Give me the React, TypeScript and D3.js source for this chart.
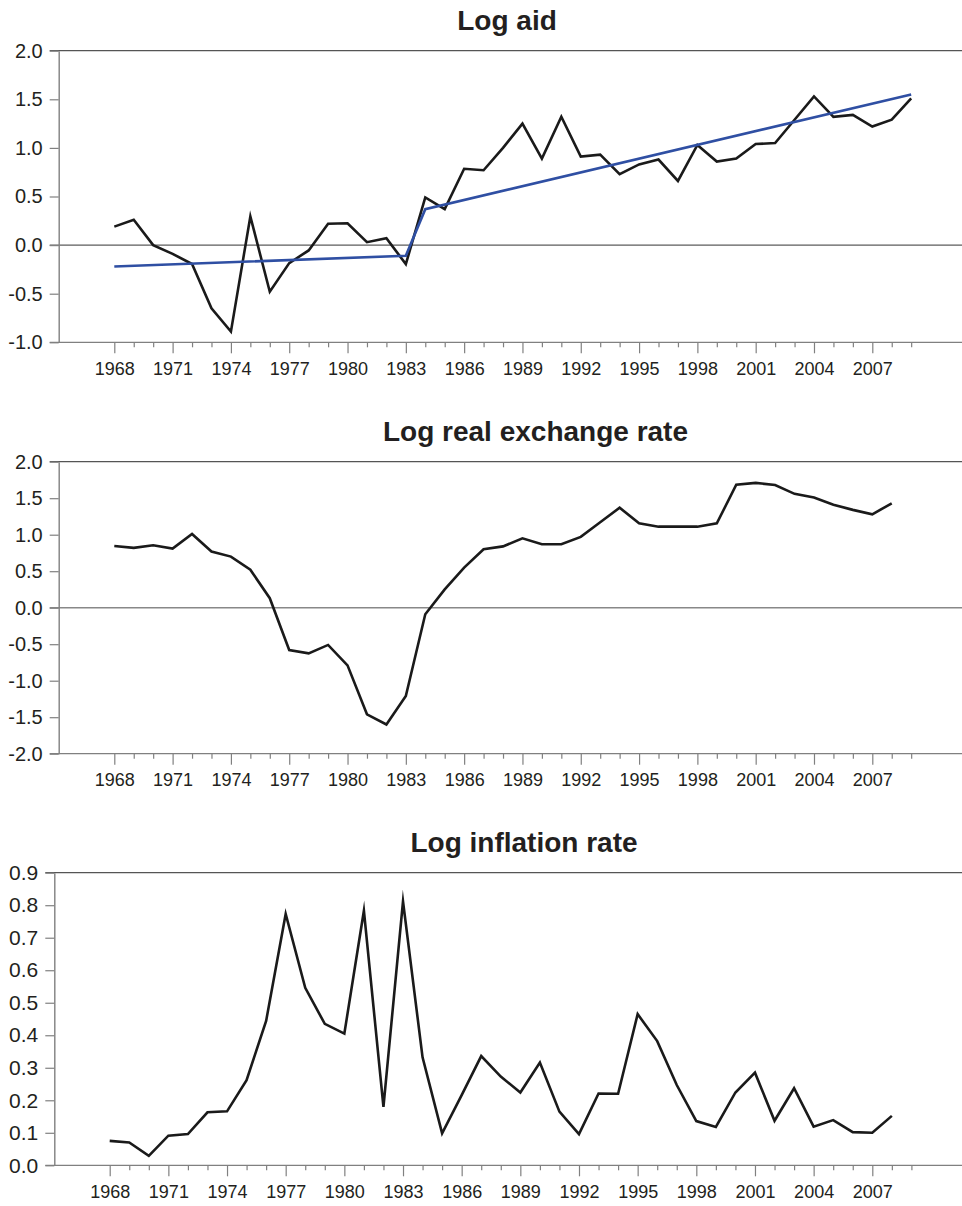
import React, { useEffect, useRef } from 'react';
import * as d3 from 'd3';

// years on the category axis
const years = [
  1968, 1969, 1970, 1971, 1972, 1973, 1974, 1975, 1976, 1977, 1978, 1979, 1980, 1981,
  1982, 1983, 1984, 1985, 1986, 1987, 1988, 1989, 1990, 1991, 1992, 1993, 1994, 1995,
  1996, 1997, 1998, 1999, 2000, 2001, 2002, 2003, 2004, 2005, 2006, 2007, 2008, 2009,
];
const labelYears = [1968, 1971, 1974, 1977, 1980, 1983, 1986, 1989, 1992, 1995, 1998, 2001, 2004, 2007];

// Log aid, 1968-2009
const logAid = [
  0.19, 0.26, 0.0, -0.09, -0.195, -0.65, -0.89, 0.295, -0.48, -0.185, -0.055, 0.22, 0.225, 0.03,
  0.07, -0.195, 0.49, 0.37, 0.785, 0.77, 1.0, 1.25, 0.89, 1.32, 0.91, 0.93, 0.73, 0.83,
  0.88, 0.66, 1.03, 0.86, 0.89, 1.04, 1.05, 1.29, 1.53, 1.32, 1.34, 1.22, 1.29, 1.51,
];
// broken trend of log aid (vertices)
const aidTrendYears = [1968, 1983, 1984, 2009];
const aidTrend = [-0.22, -0.11, 0.37, 1.55];

// Log real exchange rate, 1968-2008
const logRer = [
  0.845, 0.82, 0.855, 0.81, 1.01, 0.77, 0.7, 0.52, 0.13, -0.58, -0.625, -0.51, -0.79, -1.46,
  -1.6, -1.21, -0.09, 0.25, 0.55, 0.8, 0.84, 0.95, 0.87, 0.87, 0.97, 1.17, 1.37, 1.155,
  1.11, 1.11, 1.11, 1.155, 1.685, 1.71, 1.68, 1.56, 1.51, 1.41, 1.34, 1.28, 1.43,
];

// Log inflation rate, 1968-2008
const logInflation = [
  0.075, 0.07, 0.029, 0.091, 0.096, 0.163, 0.166, 0.262, 0.444, 0.773, 0.546, 0.435, 0.405, 0.783,
  0.18, 0.812, 0.332, 0.098, 0.216, 0.336, 0.273, 0.224, 0.316, 0.165, 0.096, 0.221, 0.22, 0.465,
  0.382, 0.247, 0.136, 0.118, 0.224, 0.285, 0.137, 0.237, 0.119, 0.139, 0.102, 0.1, 0.152,
];

const aidTicks = [-1.0, -0.5, 0.0, 0.5, 1.0, 1.5, 2.0];
const rerTicks = [-2.0, -1.5, -1.0, -0.5, 0.0, 0.5, 1.0, 1.5, 2.0];
const inflTicks = [0.0, 0.1, 0.2, 0.3, 0.4, 0.5, 0.6, 0.7, 0.8, 0.9];

const FONT = "'Liberation Sans', Arial, sans-serif";
const W = 962;
const H = 1206;

const App = () => {
  const svgRef = useRef(null);

  useEffect(() => {
    const svg = d3.select(svgRef.current);
    svg.selectAll('*').remove();

    const panels = [
      {
        title: 'Log aid', titleX: 507, titleY: 30,
        left: 58.7, top: 50.7, bottom: 342.3, x0: 114.3, x1: 872.3,
        domain: [-1, 2], ticks: aidTicks, zeroColor: '#333', zeroWidth: 1, labelSize: 20,
        series: [
          { xs: years, ys: logAid, color: '#1a1a1a' },
          { xs: aidTrendYears, ys: aidTrend, color: '#2f4fa3' },
        ],
      },
      {
        title: 'Log real exchange rate', titleX: 535.5, titleY: 440.7,
        left: 58.7, top: 461.7, bottom: 753.7, x0: 114.3, x1: 872.3,
        domain: [-2, 2], ticks: rerTicks, zeroColor: '#888', zeroWidth: 1.5, labelSize: 20,
        series: [{ xs: years.slice(0, logRer.length), ys: logRer, color: '#1a1a1a' }],
      },
      {
        title: 'Log inflation rate', titleX: 524, titleY: 851.7,
        left: 54.3, top: 872.7, bottom: 1165.3, x0: 109.7, x1: 872.3,
        domain: [0, 0.9], ticks: inflTicks, zeroColor: null, zeroWidth: 0, labelSize: 21,
        series: [{ xs: years.slice(0, logInflation.length), ys: logInflation, color: '#1a1a1a' }],
      },
    ];

    panels.forEach((p) => {
      const x = d3.scaleLinear().domain([1968, 2007]).range([p.x0, p.x1]);
      const y = d3.scaleLinear().domain(p.domain).range([p.bottom, p.top]);
      const g = svg.append('g');

      // title
      g.append('text')
        .attr('x', p.titleX)
        .attr('y', p.titleY)
        .attr('text-anchor', 'middle')
        .attr('font-family', FONT)
        .attr('font-weight', 'bold')
        .attr('font-size', 28)
        .attr('fill', '#231f20')
        .text(p.title);

      // top frame line at the max value
      g.append('line')
        .attr('x1', p.left - 9).attr('x2', W)
        .attr('y1', p.top).attr('y2', p.top)
        .attr('stroke', '#555').attr('stroke-width', 1.2);

      // zero line
      if (p.zeroColor) {
        g.append('line')
          .attr('x1', p.left - 9).attr('x2', W)
          .attr('y1', y(0)).attr('y2', y(0))
          .attr('stroke', p.zeroColor).attr('stroke-width', p.zeroWidth);
      }

      // y axis
      const yAxis = d3.axisLeft(y)
        .tickValues(p.ticks)
        .tickSize(9)
        .tickSizeOuter(0)
        .tickPadding(7)
        .tickFormat((d: any) => d.toFixed(1));
      const ya = g.append('g').attr('transform', `translate(${p.left},0)`).call(yAxis);
      ya.select('.domain').attr('stroke', '#808080').attr('stroke-width', 1.4);
      ya.selectAll('.tick line').attr('stroke', '#808080').attr('stroke-width', 1.2);
      ya.selectAll('.tick text')
        .attr('font-family', FONT)
        .attr('font-size', p.labelSize)
        .attr('fill', '#231f20');

      // x axis (bottom)
      const xAxis = d3.axisBottom(x)
        .tickValues(years)
        .tickSize(5)
        .tickSizeOuter(0)
        .tickFormat((d: any) => (labelYears.includes(d) ? String(d) : ''));
      const xa = g.append('g').attr('transform', `translate(0,${p.bottom})`).call(xAxis);
      xa.select('.domain').remove();
      xa.selectAll('.tick line')
        .attr('stroke', '#808080')
        .attr('stroke-width', 1.2)
        .attr('y2', (d: any) => (labelYears.includes(d) ? 11 : 5));
      xa.selectAll('.tick text')
        .attr('y', 20)
        .attr('dy', '0.71em')
        .attr('font-family', FONT)
        .attr('font-size', 18)
        .attr('fill', '#231f20');
      g.append('line')
        .attr('x1', p.left - 9).attr('x2', W)
        .attr('y1', p.bottom).attr('y2', p.bottom)
        .attr('stroke', '#808080').attr('stroke-width', 1.3);

      // series
      p.series.forEach((s) => {
        const pts = s.xs.map((yr, i) => [yr, s.ys[i]] as [number, number]);
        const line = d3.line<[number, number]>()
          .x((d) => x(d[0]))
          .y((d) => y(d[1]));
        g.append('path')
          .datum(pts)
          .attr('d', line)
          .attr('fill', 'none')
          .attr('stroke', s.color)
          .attr('stroke-width', 2.6)
          .attr('stroke-linejoin', 'miter')
          .attr('stroke-miterlimit', 10);
      });
    });
  }, []);

  return (
    <svg
      ref={svgRef}
      width={W}
      height={H}
      style={{ position: 'absolute', left: 0, top: 0, background: '#fff' }}
    ></svg>
  );
};

export default App;
